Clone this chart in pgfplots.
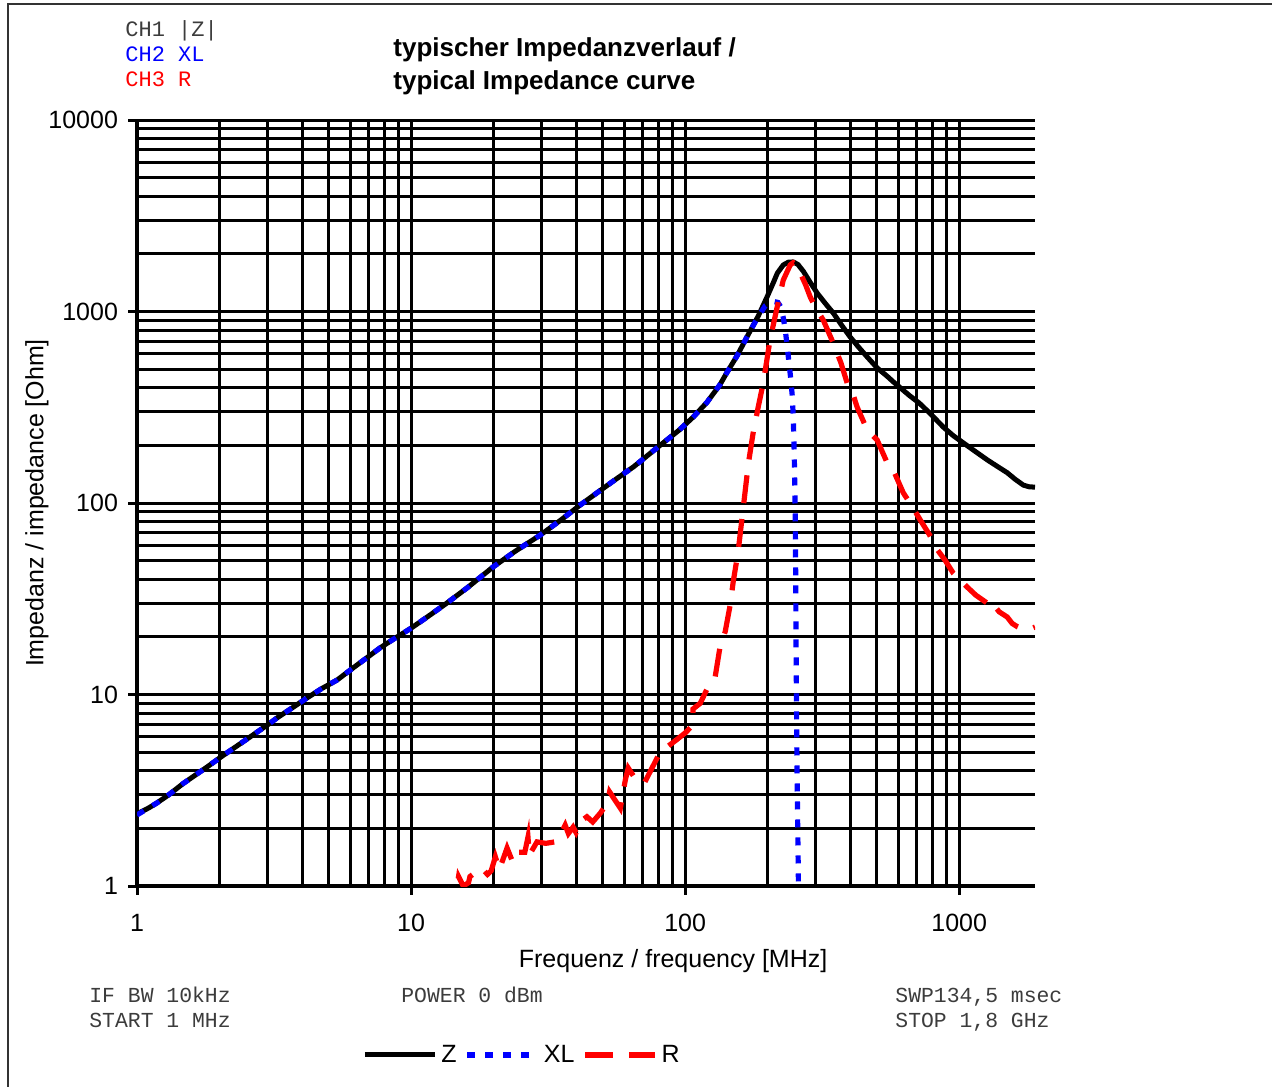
\documentclass[border=0pt]{standalone}
\usepackage{fontspec}
\setmainfont{Liberation Sans}
\setmonofont{Liberation Mono}
\usepackage{pgfplots}
\pgfplotsset{compat=1.18}
\definecolor{chgray}{RGB}{60,60,60}
\definecolor{cblue}{RGB}{0,0,255}
\definecolor{cred}{RGB}{255,0,0}
\begin{document}
\begin{tikzpicture}
\useasboundingbox (0,0) rectangle (636pt,543pt);
\draw[line width=0.8pt, black!80] (4pt,-20pt) -- (4pt,541pt) -- (700pt,541pt);
\begin{axis}[
  at={(68.5pt,100pt)}, anchor=south west,
  scale only axis, width=449pt, height=383pt,
  xmode=log, ymode=log, xmin=1, xmax=1890, ymin=1, ymax=10000,
  enlargelimits=false,
  axis x line=bottom, axis y line=left,
  axis line style={-, line width=1.7pt, black},
  xtick={1,10,100,1000}, xticklabels={1,10,100,1000},
  ytick={1,10,100,1000,10000}, yticklabels={1,10,100,1000,10000},
  minor xtick={2,3,4,5,6,7,8,9,20,30,40,50,60,70,80,90,200,300,400,500,600,700,800,900},
  minor ytick={2,3,4,5,6,7,8,9,20,30,40,50,60,70,80,90,200,300,400,500,600,700,800,900,2000,3000,4000,5000,6000,7000,8000,9000},
  grid=both,
  major grid style={line width=1.5pt, black},
  minor grid style={line width=1.5pt, black},
  tick align=outside, major tick length=4.5pt, minor tick length=0pt,
  tick style={line width=1.5pt, black},
  /pgf/number format/assume math mode=true,
  ticklabel style={font=\fontsize{12.5}{15}\selectfont},
  xticklabel style={yshift=-6pt},
  yticklabel style={xshift=-1.5pt},
  xlabel={Frequenz / frequency [MHz]},
  ylabel={Impedanz / impedance [Ohm]},
  label style={font=\fontsize{12.5}{15}\selectfont},
  xlabel style={at={(axis description cs:0.597,-0.098)}, anchor=center},
  ylabel style={at={(axis description cs:-0.1114,0.5)}, anchor=center},
  legend style={at={(axis description cs:0.4300,-0.2206)}, anchor=center,
    draw=none, fill=none, font=\fontsize{12.5}{15}\selectfont,
    /tikz/every even column/.append style={column sep=2pt},
    inner sep=0pt},
  legend columns=-1,
  legend image code/.code={\draw[#1] (0pt,0pt) -- (35pt,0pt);},
]
% |Z|
\addplot[black, line width=2.5pt, line join=round] table {
1 2.38
1.1 2.55
1.18 2.71
1.3 2.98
1.47 3.42
1.6 3.72
1.8 4.18
2.06 4.80
2.3 5.35
2.65 6.15
3.0 6.95
3.24 7.54
3.7 8.55
4.17 9.59
4.7 10.7
5.37 11.9
6.2 13.9
7.0 15.8
7.7 17.5
8.7 19.6
10 22.2
11.5 25.5
13.5 30
16 36
19.9 46.3
24 56
29.6 68
35 81
41.4 97.6
48.9 116
54.6 130
65 155
81 200
95 240
107 281
120 335
134 415
142 480
155 590
168 736
185 950
199 1191
210 1420
217 1588
228 1750
238 1810
248 1815
258 1760
270 1620
285 1430
303 1249
325 1100
347 982
372 850
400 736
430 650
462 578
502 507
545 460
574 430
609 400
660 363
714 333
790 290
875 249
950 225
1035 206
1150 185
1265 168
1380 155
1496 144
1600 133
1713 124
1800 121.5
1890 121
};
\addlegendentry{Z}
% XL
\addplot[cblue, line width=2.6pt, dash pattern=on 4pt off 5pt] table {
1 2.35
1.1 2.55
1.18 2.71
1.3 2.98
1.47 3.42
1.6 3.72
1.8 4.18
2.06 4.80
2.3 5.35
2.65 6.15
3.0 6.95
3.24 7.54
3.7 8.55
4.17 9.59
4.7 10.7
5.37 11.9
6.2 13.9
7.0 15.8
7.7 17.5
8.7 19.6
10 22.2
11.5 25.5
13.5 30
16 36
19.9 46.3
24 56
29.6 68
35 81
41.4 97.6
48.9 116
54.6 130
65 155
81 200
95 240
107 281
120 335
134 415
142 480
155 590
168 736
180 880
190 1000
196 1070
205 1110
212 1125
218 1115
223 1060
228 930
232 800
238 578
243 440
246 360
248 281
250 182
252 92
253 45
254 17
255.6 5.1
257 2.4
258.5 1.29
259.5 0.8
};
\addlegendentry{XL}
% R
\addplot[cred, line width=2.6pt, dash pattern=on 14pt off 8pt] table {
1 0.3
5 0.6
10.0 0.9
10.5 1.0
10.9 1.0
11.5 0.92
13.5 0.95
14.7 0.99
14.9 1.12
15.5 1.0
16.2 1.04
16.4 1.12
17.2 1.18
18.1 1.24
19.0 1.15
19.6 1.2
20.3 1.42
21.0 1.22
22.4 1.58
23.5 1.33
24.4 1.50
26.0 1.5
26.7 1.8
27.0 1.45
28.8 1.70
31.0 1.67
33.5 1.70
35.0 1.85
36.5 2.08
37.5 1.88
39.0 2.03
40.0 1.90
42.0 2.2
43.8 2.3
46.0 2.16
49.0 2.4
52.0 2.71
53.0 3.1
58.0 2.55
60.5 3.58
62.0 4.13
67.0 3.49
71.0 3.45
79.0 4.66
81.0 5.0
90.0 5.6
93.0 5.8
100 6.3
106.5 6.9
106.8 8.4
113.5 9.0
121 10.9
128.6 12.3
134 17.7
140 21.3
146 29.4
149.7 38.7
156 55.5
163 95
170 160
177 232
185 320
192.7 423
204 710
216.6 1055
228 1459
241.7 1750
248 1800
255 1760
263 1588
275 1380
286 1191
300 1040
319 903
347 684
370 540
390 423
405 389
424 317
462 240
502 213
546 162
574 149
625 113
670 97
721 81.5
780 68
832 57
890 50
951 43
1000 40
1069 36.4
1150 33
1265 30
1300 28.5
1332 29.5
1400 27
1496 25.4
1560 23.5
1629 22.6
1700 22
1862 22.3
1890 22.5
};
\addlegendentry{R}
\end{axis}
\node[anchor=base west, inner sep=0pt, font=\bfseries\fontsize{13}{15}\selectfont] at (196.5pt,514.5pt) {typischer Impedanzverlauf /};
\node[anchor=base west, inner sep=0pt, font=\bfseries\fontsize{13}{15}\selectfont] at (196.5pt,498pt) {typical Impedance curve};
\node[anchor=base west, inner sep=0pt, font=\ttfamily\fontsize{11}{13}\selectfont, text=chgray] at (62.5pt,524.5pt) {CH1 |Z|};
\node[anchor=base west, inner sep=0pt, font=\ttfamily\fontsize{11}{13}\selectfont, text=cblue] at (62.5pt,512pt) {CH2 XL};
\node[anchor=base west, inner sep=0pt, font=\ttfamily\fontsize{11}{13}\selectfont, text=cred] at (62.5pt,499.5pt) {CH3 R};
\node[anchor=base west, inner sep=0pt, font=\ttfamily\fontsize{10.7}{13}\selectfont, text=chgray] at (44.5pt,42pt) {IF BW 10kHz};
\node[anchor=base west, inner sep=0pt, font=\ttfamily\fontsize{10.7}{13}\selectfont, text=chgray] at (44.5pt,29.5pt) {START 1 MHz};
\node[anchor=base west, inner sep=0pt, font=\ttfamily\fontsize{10.7}{13}\selectfont, text=chgray] at (200.5pt,42pt) {POWER 0 dBm};
\node[anchor=base west, inner sep=0pt, font=\ttfamily\fontsize{10.7}{13}\selectfont, text=chgray] at (447.5pt,42pt) {SWP134,5 msec};
\node[anchor=base west, inner sep=0pt, font=\ttfamily\fontsize{10.7}{13}\selectfont, text=chgray] at (447.5pt,29.5pt) {STOP 1,8 GHz};
\end{tikzpicture}
\end{document}
